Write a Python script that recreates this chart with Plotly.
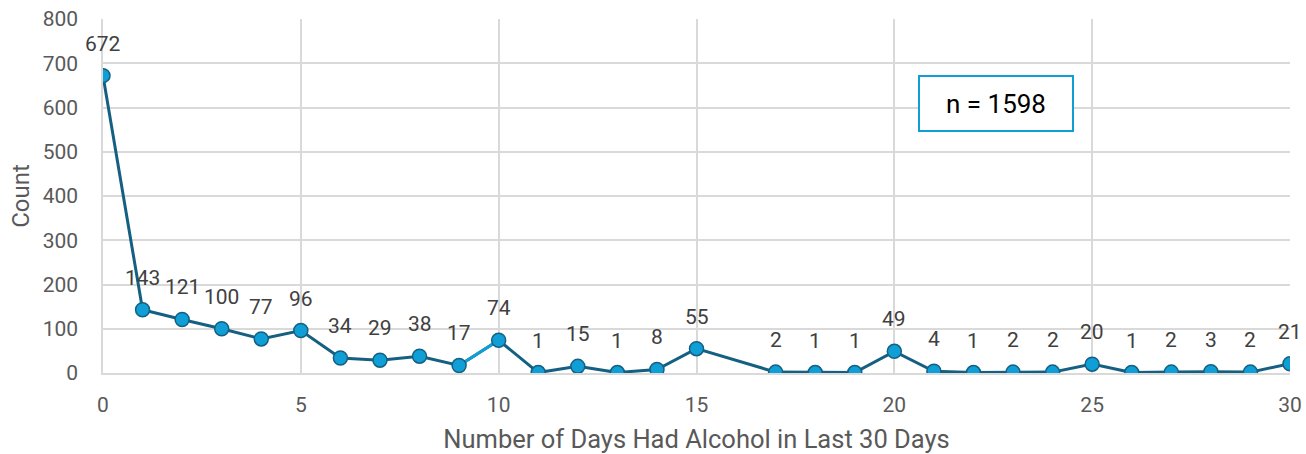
import plotly.graph_objects as go

days = [0, 1, 2, 3, 4, 5, 6, 7, 8, 9, 10, 11, 12, 13, 14, 15, 17, 18, 19, 20,
        21, 22, 23, 24, 25, 26, 27, 28, 29, 30]
counts = [672, 143, 121, 100, 77, 96, 34, 29, 38, 17, 74, 1, 15, 1, 8, 55, 2, 1, 1, 49,
          4, 1, 2, 2, 20, 1, 2, 3, 2, 21]
highlight_days = [9, 10]
highlight_counts = [17, 74]
n_label = "n = 1598"

DARK = "#156082"
LIGHT = "#0F9ED5"
GRID = "#D9D9D9"
TXT = "#595959"
FONT = "Roboto"

fig = go.Figure()
fig.add_trace(go.Scatter(x=days, y=counts, mode="lines",
                         line=dict(color=DARK, width=3), hoverinfo="skip"))
fig.add_trace(go.Scatter(x=highlight_days, y=highlight_counts, mode="lines",
                         line=dict(color=LIGHT, width=3), hoverinfo="skip"))
fig.add_trace(go.Scatter(x=days, y=counts, mode="markers",
                         marker=dict(color=LIGHT, size=14, line=dict(color=DARK, width=1.5))))

for d, c in zip(days, counts):
    fig.add_annotation(x=d, y=c, text=str(c), showarrow=False, yshift=32,
                       font=dict(family=FONT, size=21, color="#404040"))

# box centred at page (996, 103) -> plot-area fractions
fig.add_annotation(xref="paper", yref="paper", x=(996 - 103) / 1187, y=(373 - 103) / 354,
                   xanchor="center", yanchor="middle",
                   text=n_label, showarrow=False, width=150, height=51,
                   bordercolor=LIGHT, borderwidth=2, bgcolor="white",
                   font=dict(family=FONT, size=26, color="#000000"))

fig.update_layout(
    width=1306, height=454,
    margin=dict(l=103, r=16, t=19, b=81),
    paper_bgcolor="white", plot_bgcolor="white",
    showlegend=False,
    font=dict(family=FONT, color=TXT, size=20),
)
fig.update_xaxes(range=[0, 30], dtick=5, tick0=0, showgrid=True, gridcolor=GRID, gridwidth=1.5,
                 showline=True, linecolor=GRID, linewidth=1.5, zeroline=False,
                 ticks="outside", ticklen=12, tickcolor="rgba(0,0,0,0)", automargin=False,
                 ticklabeloverflow="allow",
                 tickfont=dict(size=21, color=TXT),
                 title=dict(text="Number of Days Had Alcohol in Last 30 Days",
                            font=dict(size=25.5, color=TXT), standoff=23))
fig.update_yaxes(range=[0, 800], dtick=100, showgrid=True, gridcolor=GRID, gridwidth=1.5,
                 showline=True, linecolor=GRID, linewidth=1.5, zeroline=False,
                 ticks="outside", ticklen=19, tickcolor="rgba(0,0,0,0)", automargin=False,
                 ticklabeloverflow="allow",
                 tickfont=dict(size=21, color=TXT),
                 title=dict(text="Count", font=dict(size=24, color=TXT), standoff=6))

# remove the browser's default 8px body margin so the figure fills the window exactly
fig.write_html("out.html", config={"displayModeBar": False},
               post_script="document.body.style.margin='0';")
